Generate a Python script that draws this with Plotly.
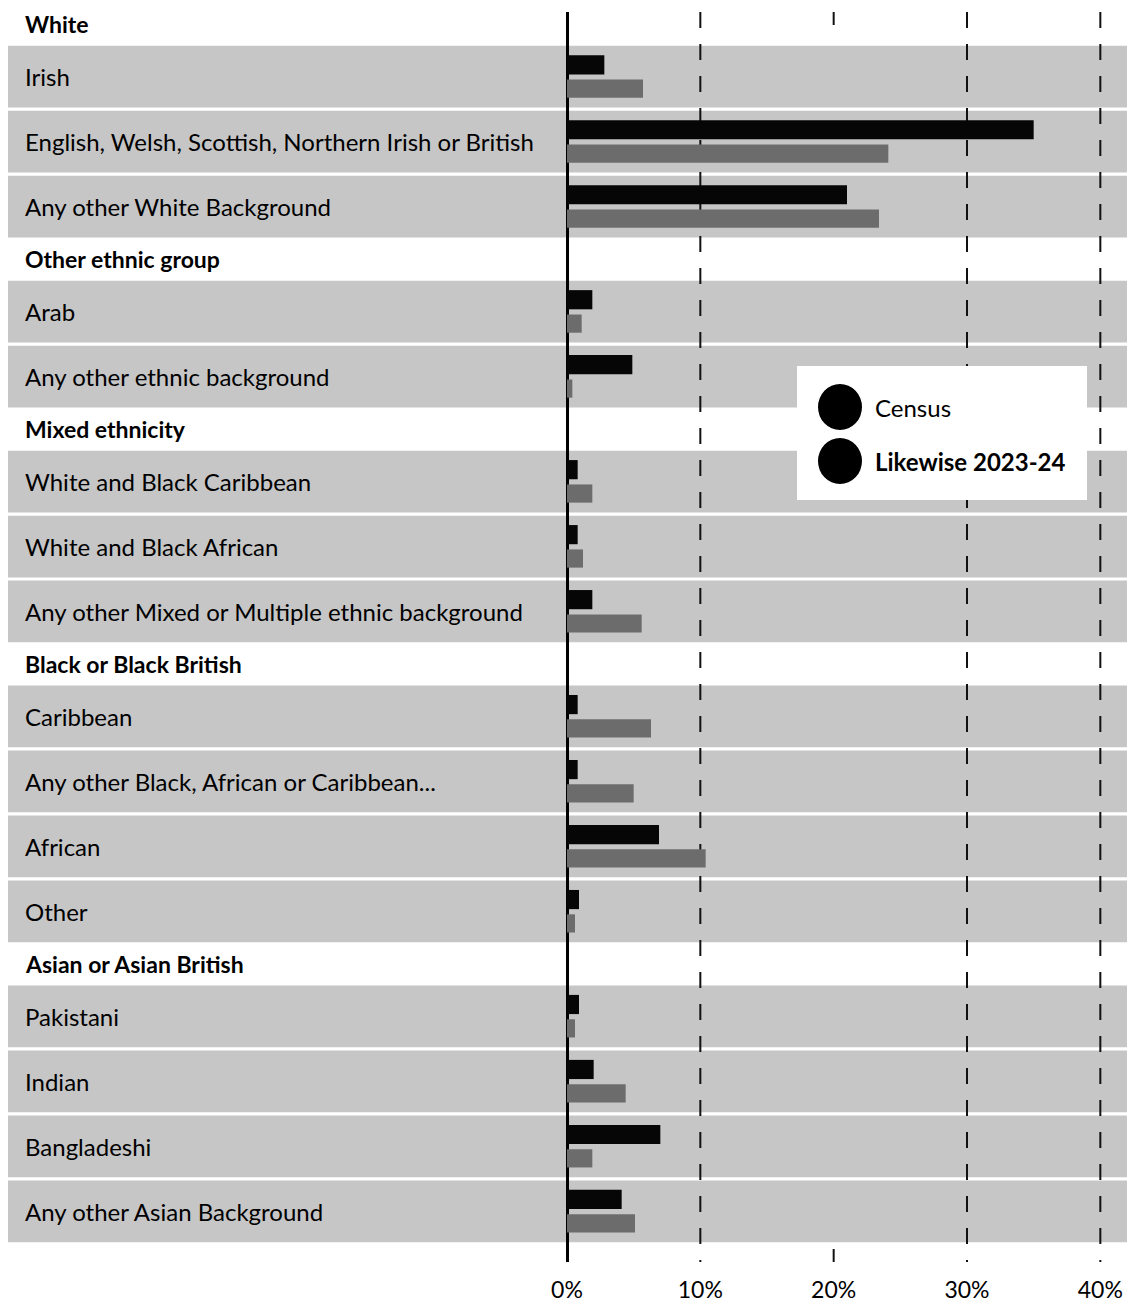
import plotly.graph_objects as go

# Ethnic groups, each with its sub-categories (top to bottom)
groups = [
    "White",
    "Other ethnic group",
    "Mixed ethnicity",
    "Black or Black British",
    "Asian or Asian British",
]
categories = [
    ["Irish", "English, Welsh, Scottish, Northern Irish or British", "Any other White Background"],
    ["Arab", "Any other ethnic background"],
    ["White and Black Caribbean", "White and Black African", "Any other Mixed or Multiple ethnic background"],
    ["Caribbean", "Any other Black, African or Caribbean...", "African", "Other"],
    ["Pakistani", "Indian", "Bangladeshi", "Any other Asian Background"],
]

# Share of people (%) in each category
census = [
    [2.8, 35.0, 21.0],
    [1.9, 4.9],
    [0.8, 0.8, 1.9],
    [0.8, 0.8, 6.9, 0.9],
    [0.9, 2.0, 7.0, 4.1],
]
likewise = [
    [5.7, 24.1, 23.4],
    [1.1, 0.4],
    [1.9, 1.2, 5.6],
    [6.3, 5.0, 10.4, 0.6],
    [0.6, 4.4, 1.9, 5.1],
]

tick_vals = [0, 10, 20, 30, 40]
tick_text = ["0%", "10%", "20%", "30%", "40%"]

# Vertical layout: a header strip is shorter than a category row
HEADER_H = 0.615
ROW_H = 1.0

FONT = "Lato"
BAND = "#c6c6c6"
CENSUS_COLOR = "#060606"
LIKEWISE_COLOR = "#6c6c6c"

header_pos, row_pos, row_names, census_vals, likewise_vals = [], [], [], [], []
cursor = 0.0
for g, cats, cv, lv in zip(groups, categories, census, likewise):
    header_pos.append(cursor + HEADER_H / 2)
    cursor += HEADER_H
    for c, a, b in zip(cats, cv, lv):
        row_pos.append(cursor + ROW_H / 2)
        row_names.append(c)
        census_vals.append(a)
        likewise_vals.append(b)
        cursor += ROW_H
y_bottom = cursor

fig = go.Figure()
fig.add_trace(go.Bar(
    y=row_pos, x=census_vals, orientation="h", name="Census",
    marker=dict(color=CENSUS_COLOR, line=dict(width=0)),
    offset=-0.33, width=0.295, showlegend=False,
))
fig.add_trace(go.Bar(
    y=row_pos, x=likewise_vals, orientation="h", name="Likewise 2023-24",
    marker=dict(color=LIKEWISE_COLOR, line=dict(width=0)),
    offset=0.045, width=0.28, showlegend=False,
))

W, H = 1134, 1308
ML, MR, MT, MB = 567, 7, 12, 46
plot_w = W - ML - MR
x_max = 42.0

def px_to_paper_x(px):
    return (px - ML) / plot_w

shapes = []
# grey background strip behind each category row
for p in row_pos:
    shapes.append(dict(
        type="rect", xref="paper", yref="y",
        x0=px_to_paper_x(8), x1=1.0, y0=p - 0.475, y1=p + 0.475,
        fillcolor=BAND, line=dict(width=0), layer="below",
    ))

# dashed reference lines
y_top = 0.12
y_end = y_bottom + 0.28
for v in [10, 30, 40]:
    shapes.append(dict(
        type="line", xref="x", yref="y", x0=v, x1=v, y0=y_top, y1=y_end,
        line=dict(color="#111111", width=2, dash="16px,16px"), layer="between",
    ))
# the 20% line only shows its end dashes
for a, b in [(y_top, y_top + 0.2), (y_end - 0.2, y_end)]:
    shapes.append(dict(
        type="line", xref="x", yref="y", x0=20, x1=20, y0=a, y1=b,
        line=dict(color="#111111", width=2), layer="between",
    ))

# legend box
leg_x0, leg_x1 = px_to_paper_x(797), px_to_paper_x(1087)
leg_y0, leg_y1 = (366 - 4) / 65, (500 - 4) / 65
shapes.append(dict(
    type="rect", xref="paper", yref="y", x0=leg_x0, x1=leg_x1, y0=leg_y0, y1=leg_y1,
    fillcolor="white", line=dict(width=0), layer="above",
))
legend_items = [("Census", (407 - 4) / 65, False), ("Likewise 2023-24", (461 - 4) / 65, True)]
for name, yy, bold in legend_items:
    shapes.append(dict(
        type="circle", xref="paper", yref="y", xsizemode="pixel", ysizemode="pixel",
        xanchor=px_to_paper_x(840), yanchor=yy, x0=-22, x1=22, y0=-23, y1=23,
        fillcolor="black", line=dict(width=0), layer="above",
    ))

annotations = []
for name, yy, bold in legend_items:
    annotations.append(dict(
        xref="paper", yref="y", x=px_to_paper_x(873), y=yy,
        text=f"<b>{name}</b>" if bold else name, showarrow=False,
        xanchor="left", yanchor="middle",
        font=dict(family=FONT, size=24, color="black"),
    ))

lbl_x = px_to_paper_x(23)
for g, p in zip(groups, header_pos):
    annotations.append(dict(
        xref="paper", yref="y", x=lbl_x, y=p, text=f"<b>{g}</b>", showarrow=False,
        xanchor="left", yanchor="middle", font=dict(family=FONT, size=23, color="black"),
    ))
for n, p in zip(row_names, row_pos):
    annotations.append(dict(
        xref="paper", yref="y", x=lbl_x, y=p, text=n, showarrow=False,
        xanchor="left", yanchor="middle", font=dict(family=FONT, size=24, color="black"),
    ))

fig.update_layout(
    width=W, height=H,
    margin=dict(l=ML, r=MR, t=MT, b=MB, autoexpand=False),
    paper_bgcolor="white", plot_bgcolor="white",
    barmode="overlay",
    shapes=shapes, annotations=annotations,
    showlegend=False,
    xaxis=dict(
        range=[0, x_max], tickvals=tick_vals, ticktext=tick_text,
        showgrid=False, zeroline=True, zerolinecolor="black", zerolinewidth=3,
        showline=False, ticks="", ticklabelstandoff=12, automargin=False,
        tickfont=dict(family=FONT, size=23, color="black"),
    ),
    yaxis=dict(
        range=[y_end, y_top], showgrid=False, zeroline=False, automargin=False,
        showticklabels=False, showline=False, ticks="",
    ),
)

fig.write_html("out.html")
